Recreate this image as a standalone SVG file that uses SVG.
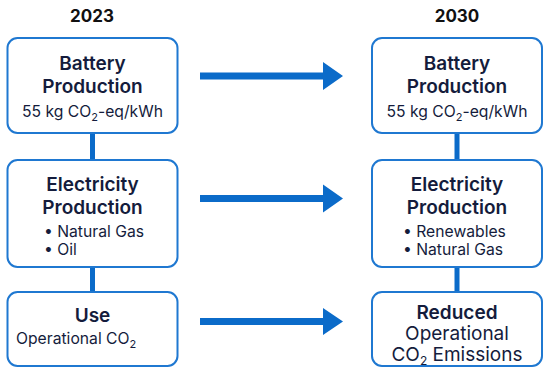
<svg xmlns="http://www.w3.org/2000/svg" width="550" height="372" viewBox="0 0 550 372">
<style>
.box{fill:#fff;stroke:#1f78d1;stroke-width:2}
.t{font-family:Inter,"Noto Sans",sans-serif;fill:#141c3c;text-anchor:middle}
.h{font-size:17px;font-weight:700;fill:#111}
.b{font-size:19px;font-weight:600}
.m{font-size:19px;font-weight:400}
.s{font-size:15.7px;font-weight:400}
.l{text-anchor:start}
.link{stroke:#0b6bc9;stroke-width:5;fill:none}
.arr{fill:#0b6bc9}
</style>
<rect width="550" height="372" fill="#fff"/>
<text class="t h" x="92" y="22">2023</text>
<text class="t h" x="457" y="22">2030</text>
<g id="connectors">
<line class="link" x1="92.5" y1="133" x2="92.5" y2="160"/>
<line class="link" x1="92.5" y1="267" x2="92.5" y2="292"/>
<line class="link" x1="457" y1="133" x2="457" y2="160"/>
<line class="link" x1="457" y1="267" x2="457" y2="292"/>
<path class="arr" d="M200 72.5H323V62L343 76L323 90V79.5H200Z"/>
<path class="arr" d="M200 195H323V184.5L343 198.5L323 212.5V202H200Z"/>
<path class="arr" d="M200 318H323V308L343 321.5L323 335V325H200Z"/>
</g>
<g id="battery2023">
<rect class="box" x="7.5" y="38" width="170" height="95" rx="10"/>
<text class="t b" x="92.5" y="70">Battery</text>
<text class="t b" x="92.5" y="93">Production</text>
<text class="t s" x="92.5" y="117">55 kg CO<tspan font-size="11" dy="4">2</tspan><tspan dy="-4">-eq/kWh</tspan></text>
</g>
<g id="electricity2023">
<rect class="box" x="7.5" y="160" width="170" height="107" rx="10"/>
<text class="t b" x="92.5" y="191">Electricity</text>
<text class="t b" x="92.5" y="214">Production</text>
<text class="t s l" x="44" y="237">• Natural Gas</text>
<text class="t s l" x="44" y="255">• Oil</text>
</g>
<g id="use2023">
<rect class="box" x="7.5" y="292" width="170" height="74" rx="10"/>
<text class="t b" x="92.5" y="322">Use</text>
<text class="t s l" x="16" y="344">Operational CO<tspan font-size="11" dy="4">2</tspan></text>
</g>
<g id="battery2030">
<rect class="box" x="372" y="38" width="170" height="95" rx="10"/>
<text class="t b" x="457" y="70">Battery</text>
<text class="t b" x="457" y="93">Production</text>
<text class="t s" x="457" y="117">55 kg CO<tspan font-size="11" dy="4">2</tspan><tspan dy="-4">-eq/kWh</tspan></text>
</g>
<g id="electricity2030">
<rect class="box" x="372" y="160" width="170" height="107" rx="10"/>
<text class="t b" x="457" y="191">Electricity</text>
<text class="t b" x="457" y="214">Production</text>
<text class="t s l" x="403" y="237">• Renewables</text>
<text class="t s l" x="403" y="255">• Natural Gas</text>
</g>
<g id="reduced2030">
<rect class="box" x="372" y="292" width="170" height="74" rx="10"/>
<text class="t b" x="457" y="319">Reduced</text>
<text class="t m" x="457" y="340">Operational</text>
<text class="t m" x="457" y="361">CO<tspan font-size="12" dy="4">2</tspan><tspan dy="-4"> Emissions</tspan></text>
</g>
</svg>
